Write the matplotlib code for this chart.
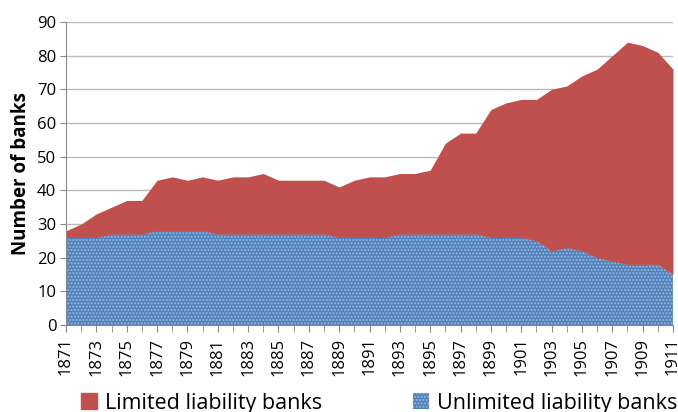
import matplotlib
matplotlib.use("Agg")
import matplotlib.pyplot as plt
from matplotlib.patches import Patch
import numpy as np

plt.rcParams['font.family'] = ['Open Sans', 'DejaVu Sans']
plt.rcParams['hatch.linewidth'] = 1.0

years = list(range(1871, 1912))
total = [28, 30, 33, 35, 37, 37, 43, 44, 43, 44,
         43, 44, 44, 45, 43, 43, 43, 43, 41, 43,
         44, 44, 45, 45, 46, 54, 57, 57, 64, 66,
         67, 67, 70, 71, 74, 76, 80, 84, 83, 81, 76]
unlimited = [26, 26, 26, 27, 27, 27, 28, 28, 28, 28,
             27, 27, 27, 27, 27, 27, 27, 27, 26, 26,
             26, 26, 27, 27, 27, 27, 27, 27, 26, 26,
             26, 25, 22, 23, 22, 20, 19, 18, 18, 18, 15]
limited = [t - u for t, u in zip(total, unlimited)]
tick_labels = [str(y) for y in years[::2]]

blue = '#4F81BD'
red = '#C0504D'
dot = '#9DB8DC'

fig = plt.figure(figsize=(6.78, 4.12), dpi=100)
ax = fig.add_axes([66/678, 1-325/412, (673-66)/678, (325-22)/412])

x = np.array(years)
u = np.array(unlimited)
l = np.array(limited)
ax.fill_between(x, 0, u, facecolor=blue, edgecolor=dot, hatch='.....', linewidth=0, zorder=2)
ax.fill_between(x, u, u + l, facecolor=red, edgecolor=red, linewidth=0, zorder=2)

ax.set_xlim(1871, 1911)
ax.set_ylim(0, 90)
ax.set_yticks(range(0, 91, 10))
ax.set_xticks(years, minor=True)
ax.set_xticks(years[::2])
ax.set_xticklabels(tick_labels, rotation=90, fontsize=12)
ax.tick_params(axis='y', labelsize=12, length=4, color='#888888', pad=3)
ax.tick_params(axis='x', which='both', length=5, color='#888888', pad=4)
ax.grid(axis='y', color='#BBBBBB', linewidth=1, zorder=0)
ax.set_axisbelow(True)
for s in ['top', 'right']:
    ax.spines[s].set_visible(False)
for s in ['left', 'bottom']:
    ax.spines[s].set_color('#888888')
ax.set_ylabel('Number of banks', fontsize=13.5, fontweight='bold', labelpad=4)

h1 = [Patch(facecolor=red, edgecolor=red, label='Limited liability banks')]
h2 = [Patch(facecolor=blue, edgecolor=dot, hatch='.....', linewidth=0, label='Unlimited liability banks')]
leg1 = fig.legend(handles=h1, loc='center left', bbox_to_anchor=(72/678, 1-403/412),
                  frameon=False, fontsize=15.5, handlelength=0.75, handleheight=0.75,
                  handletextpad=0.4, borderaxespad=0)
leg2 = fig.legend(handles=h2, loc='center left', bbox_to_anchor=(404/678, 1-403/412),
                  frameon=False, fontsize=15.5, handlelength=0.75, handleheight=0.75,
                  handletextpad=0.4, borderaxespad=0)

fig.savefig('out.png', dpi=100)
